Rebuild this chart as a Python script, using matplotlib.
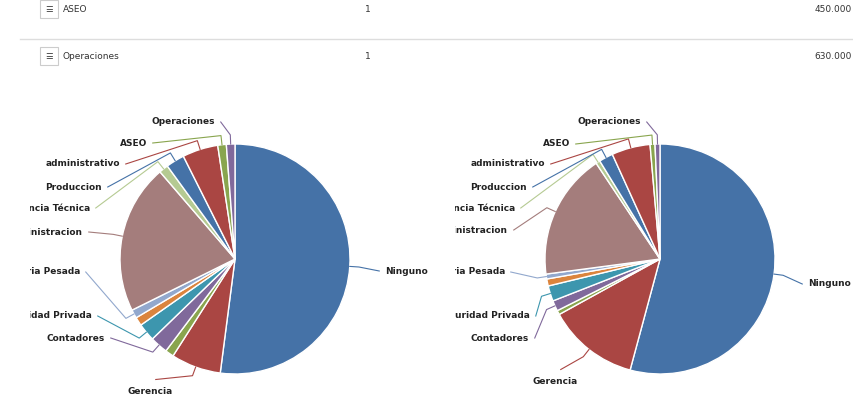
import numpy as np
import matplotlib.pyplot as plt
from matplotlib.lines import Line2D

# --- datos ---
categorias = ["Ninguno", "Gerencia", "", "Contadores", "Seguridad Privada", "",
              "Maquinaria Pesada", "Administracion", "Asistencia Técnica",
              "Produccion", "administrativo", "ASEO", "Operaciones"]
valores_izq = [52, 7, 1.2, 2.5, 2.5, 1.2, 1.2, 21, 1.3, 2.6, 5, 1.2, 1.2]
valores_der = [55, 13, 0.6, 1.5, 2.2, 1.0, 0.7, 18, 0.6, 2.0, 5.5, 0.7, 0.7]
colores = ['#4572A7', '#AA4643', '#89A54E', '#80699B', '#3D96AE', '#DB843D',
           '#92A8CD', '#A47D7C', '#B5CA92', '#4572A7', '#AA4643', '#89A54E', '#80699B']

tabla_nombres = ["ASEO", "Operaciones"]
tabla_cant = ["1", "1"]
tabla_total = ["450.000", "630.000"]

# posiciones de etiquetas (pixeles): (x, y, alineacion)
etq_izq = [(385, 271, 'left'), (150, 391, 'center'), None, (105, 338, 'right'),
           (92, 316, 'right'), None, (80, 272, 'right'), (83, 232, 'right'),
           (90, 208, 'right'), (102, 187, 'right'), (120, 164, 'right'),
           (147, 143, 'right'), (215, 122, 'right')]
etq_der = [(808, 284, 'left'), (555, 381, 'center'), None, (529, 338, 'right'),
           (530, 316, 'right'), None, (505, 272, 'right'), (508, 230, 'right'),
           (515, 208, 'right'), (527, 187, 'right'), (545, 164, 'right'),
           (570, 144, 'right'), (641, 122, 'right')]

W, H = 854, 411
fig = plt.figure(figsize=(W / 100, H / 100), dpi=100)

# --- tabla superior ---
for i, (n, c, t) in enumerate(zip(tabla_nombres, tabla_cant, tabla_total)):
    y = 1 - (9 + 47 * i) / H
    fig.patches.append(plt.Rectangle(((40) / W, y - 9 / H), 18 / W, 18 / H,
                                     transform=fig.transFigure, fc='white',
                                     ec='#cccccc', lw=0.8))
    fig.text(49 / W, y, "\u2630", fontsize=6, ha='center', va='center', color='#333')
    fig.text(63 / W, y, n, fontsize=6.5, va='center', color='#333')
    fig.text(368 / W, y, c, fontsize=6.5, va='center', ha='center', color='#333')
    fig.text(852 / W, y, t, fontsize=6.5, va='center', ha='right', color='#333')
fig.add_artist(Line2D([20 / W, 1], [1 - 39 / H] * 2, color='#dddddd', lw=1,
                      transform=fig.transFigure))


def dibujar_pie(cx, cy, valores, etiquetas, x_ini, x_fin):
    r = 115
    ax = fig.add_axes([x_ini / W, 0, (x_fin - x_ini) / W, 1])
    ax.axis('off')
    wedges, _ = ax.pie(valores, colors=colores, startangle=90, counterclock=False,
                       wedgeprops=dict(edgecolor='white', linewidth=1))
    ax.set_aspect('auto')
    ax.set_xlim((x_ini - cx) / r, (x_fin - cx) / r)
    ax.set_ylim((cy - H) / r, cy / r)
    for w, col, nombre, pos in zip(wedges, colores, categorias, etiquetas):
        if pos is None:
            continue
        a = np.deg2rad((w.theta1 + w.theta2) / 2)
        x0, y0 = np.cos(a), np.sin(a)
        tx, ty, ha = (pos[0] - cx) / r, (cy - pos[1]) / r, pos[2]
        if ha == 'center':
            lx, ly = tx + 0.05, ty + 0.1
        elif ha == 'left':
            lx, ly = tx - 0.05, ty
        else:
            lx, ly = tx + 0.05, ty
        ax.plot([x0, x0 * 1.08, lx], [y0, y0 * 1.08, ly], color=col, lw=0.8)
        ax.text(tx, ty, nombre, ha=ha, va='center', fontsize=6.5,
                fontweight='bold', color='#222', clip_on=True)


dibujar_pie(235, 259, valores_izq, etq_izq, 30, 440)
dibujar_pie(660, 259, valores_der, etq_der, 455, W)

fig.savefig("out.png", dpi=100)
